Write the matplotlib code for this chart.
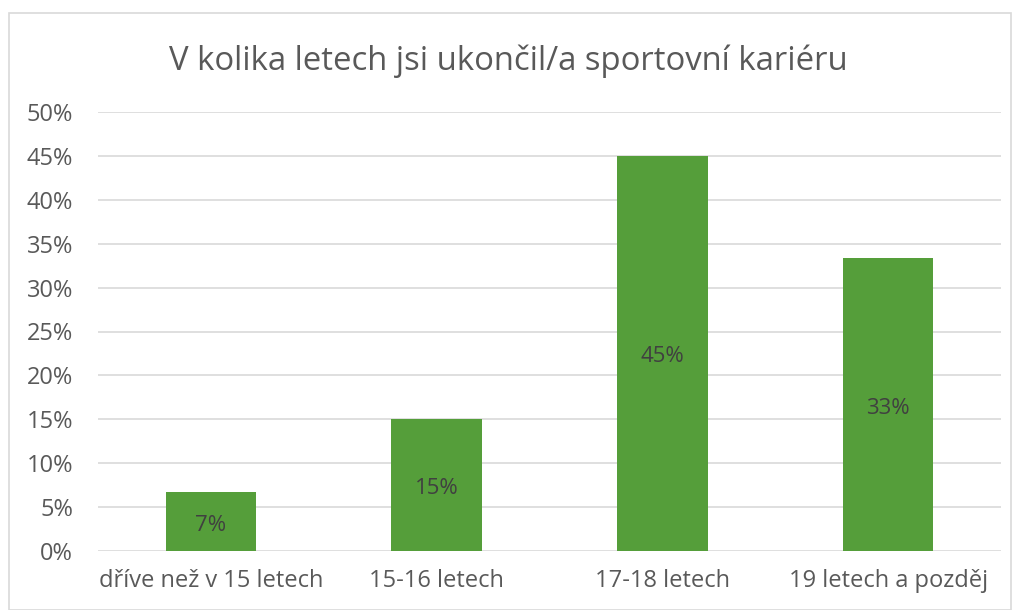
import matplotlib
matplotlib.use("Agg")
import matplotlib.pyplot as plt
from matplotlib.patches import Rectangle
from matplotlib.ticker import PercentFormatter

categories = ["dříve než v 15 letech", "15-16 letech", "17-18 letech", "19 letech a pozděj"]
values = [0.0667, 0.15, 0.45, 0.3333]
title = "V kolika letech jsi ukončil/a sportovní kariéru"

plt.rcParams['font.family'] = ['Open Sans', 'DejaVu Sans']
text_col = "#595959"
bar_col = "#559E3A"

fig = plt.figure(figsize=(10.16, 6.1), dpi=100)
ax = fig.add_axes([98/1016, 1-551/610, (1001-98)/1016, (551-112)/610])

x = range(len(categories))
bars = ax.bar(x, values, width=0.4, color=bar_col, zorder=3)
for xi, v in zip(x, values):
    ax.annotate(f"{round(v*100):.0f}%", (xi, v/2), xytext=(0, -2.5), textcoords="offset points",
                ha="center", va="center", fontsize=16, color="#404040", zorder=4)

ax.set_xlim(-0.5, len(categories)-0.5)
ax.set_ylim(0, 0.5)
ax.set_yticks([i*0.05 for i in range(11)])
ax.yaxis.set_major_formatter(PercentFormatter(1.0, decimals=0))
ax.set_xticks(list(x))
ax.set_xticklabels(categories)
ax.grid(axis="y", color="#D9D9D9", linewidth=1.2, zorder=0)
for s in ax.spines.values():
    s.set_visible(False)
ax.tick_params(axis="both", length=0, labelsize=17, colors=text_col)
ax.tick_params(axis="x", pad=13)
ax.tick_params(axis="y", pad=18)

fig.text(0.5, 1-61/610, title, ha="center", va="center", fontsize=23.7, color=text_col)
fig.patches.append(Rectangle((9/1016, 0), 1002/1016, 1-13/610, transform=fig.transFigure,
                             fill=False, edgecolor="#D9D9D9", linewidth=1.2))

fig.savefig("out.png", dpi=100)
